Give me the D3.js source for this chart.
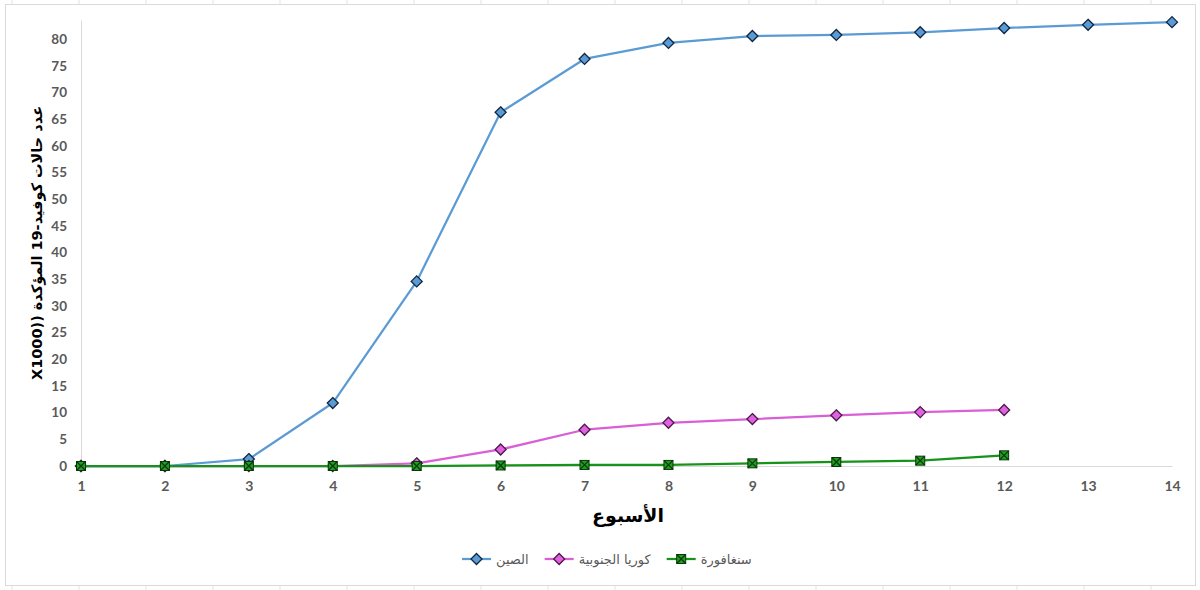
<!DOCTYPE html>
<html>
<head>
<meta charset="utf-8">
<script src="https://cdn.jsdelivr.net/npm/d3@7"></script>
<style>
  body { margin: 0; background: #fff; }
  text { font-family: Lato, "DejaVu Sans", sans-serif; }
</style>
</head>
<body>
<div id="viz"></div>
<script>
// weeks and confirmed cases (x1000)
var weeks = [1, 2, 3, 4, 5, 6, 7, 8, 9, 10, 11, 12, 13, 14];
var china = [0, 0, 1.3, 11.8, 34.6, 66.3, 76.3, 79.3, 80.6, 80.8, 81.3, 82.1, 82.7, 83.2];
var korea = [0, 0, 0, 0, 0.5, 3.1, 6.8, 8.1, 8.8, 9.5, 10.1, 10.5];
var singapore = [0, 0, 0, 0, 0, 0.1, 0.2, 0.2, 0.5, 0.75, 1.0, 2.0];
var yTicks = [0, 5, 10, 15, 20, 25, 30, 35, 40, 45, 50, 55, 60, 65, 70, 75, 80];
var seriesNames = ["الصين", "كوريا الجنوبية", "سنغافورة"];

var width = 1200, height = 590;

var series = [
  {name: seriesNames[0], values: china, line: "#5b9bd5", fill: "#5b9bd5", stroke: "#10253f", shape: "diamond"},
  {name: seriesNames[1], values: korea, line: "#d95fd6", fill: "#e062e0", stroke: "#4a1a48", shape: "diamond"},
  {name: seriesNames[2], values: singapore, line: "#17931a", fill: "#20a020", stroke: "#0a360a", shape: "xsquare"}
];

var svg = d3.select("#viz").append("svg")
    .attr("width", width)
    .attr("height", height);

// excel sheet look: faint cell lines outside the chart
var bg = svg.append("g");
for (var gx = 12; gx < width; gx += 67) {
  bg.append("line").attr("x1", gx).attr("x2", gx).attr("y1", 0).attr("y2", 4).style("stroke", "#e3e3e3");
  bg.append("line").attr("x1", gx).attr("x2", gx).attr("y1", 586).attr("y2", height).style("stroke", "#e3e3e3");
}
svg.append("rect")
    .attr("x", 5.5).attr("y", 4.5)
    .attr("width", 1190).attr("height", 581)
    .style("fill", "#fff")
    .style("stroke", "#d9d9d9");

var x = d3.scaleLinear().domain([1, 14]).range([81, 1172]);
var y = d3.scaleLinear().domain([0, 83.6]).range([466, 20]);

// y axis
var yAxis = d3.axisLeft(y).tickValues(yTicks).tickSize(0).tickPadding(14);
var yg = svg.append("g").attr("transform", "translate(81,0)").call(yAxis);
yg.select(".domain").style("stroke", "#d9d9d9").style("stroke-width", 1);
yg.selectAll("text")
    .style("font-family", "Lato, sans-serif")
    .style("font-size", "13.5px")
    .style("font-weight", "bold")
    .style("fill", "#595959");

// x axis
var xAxis = d3.axisBottom(x).tickValues(weeks).tickSize(0).tickPadding(15);
var xg = svg.append("g").attr("transform", "translate(0,466)").call(xAxis);
xg.select(".domain").style("stroke", "#d9d9d9").style("stroke-width", 1);
xg.selectAll("text")
    .style("font-family", "Lato, sans-serif")
    .style("font-size", "14px")
    .style("font-weight", "bold")
    .style("fill", "#595959");

// axis titles
svg.append("text")
    .attr("x", 628)
    .attr("y", 522)
    .attr("text-anchor", "middle")
    .style("direction", "rtl")
    .style("font-family", "'DejaVu Sans', sans-serif")
    .style("font-size", "19px")
    .style("font-weight", "bold")
    .style("fill", "#000")
    .text("الأسبوع");

svg.append("text")
    .attr("transform", "translate(42,243) rotate(-90)")
    .attr("text-anchor", "middle")
    .style("direction", "rtl")
    .style("font-family", "'DejaVu Sans', sans-serif")
    .style("font-size", "14.5px")
    .style("font-weight", "bold")
    .style("fill", "#000")
    .text("عدد حالات كوفيد-19 المؤكدة ((X1000");

var line = d3.line()
    .x(function(d, i) { return x(weeks[i]); })
    .y(function(d) { return y(d); });

function drawMarker(sel, s, cx, cy) {
  if (s.shape == "diamond") {
    var r = 5.5;
    sel.append("path")
        .attr("d", "M" + cx + "," + (cy - r) + "L" + (cx + r) + "," + cy + "L" + cx + "," + (cy + r) + "L" + (cx - r) + "," + cy + "Z")
        .style("fill", s.fill)
        .style("stroke", s.stroke)
        .style("stroke-width", 1.3);
  } else {
    var h = 4.5;
    sel.append("rect")
        .attr("x", cx - h).attr("y", cy - h)
        .attr("width", h * 2).attr("height", h * 2)
        .style("fill", s.fill)
        .style("stroke", s.stroke)
        .style("stroke-width", 1);
    sel.append("path")
        .attr("d", "M" + (cx - h) + "," + (cy - h) + "L" + (cx + h) + "," + (cy + h) + "M" + (cx + h) + "," + (cy - h) + "L" + (cx - h) + "," + (cy + h))
        .style("stroke", s.stroke)
        .style("stroke-width", 1.2);
  }
}

series.forEach(function(s) {
  var g = svg.append("g");
  g.append("path")
      .datum(s.values)
      .attr("d", line)
      .style("fill", "none")
      .style("stroke", s.line)
      .style("stroke-width", 2.25)
      .style("stroke-linejoin", "round");
  s.values.forEach(function(v, i) {
    drawMarker(g, s, x(weeks[i]), y(v));
  });
});

// legend
var legend = svg.append("g");
var lx = 462, ly = 559;
series.forEach(function(s) {
  var item = legend.append("g");
  item.append("line")
      .attr("x1", lx).attr("x2", lx + 29)
      .attr("y1", ly).attr("y2", ly)
      .style("stroke", s.line)
      .style("stroke-width", 2.25);
  drawMarker(item, s, lx + 14.5, ly);
  var t = item.append("text")
      .attr("x", lx + 34)
      .attr("y", ly + 5)
      .style("font-family", "'DejaVu Sans', sans-serif")
      .style("font-size", "13px")
      .style("fill", "#595959")
      .text(s.name);
  lx = lx + 34 + t.node().getComputedTextLength() + 16;
});
</script>
</body>
</html>
